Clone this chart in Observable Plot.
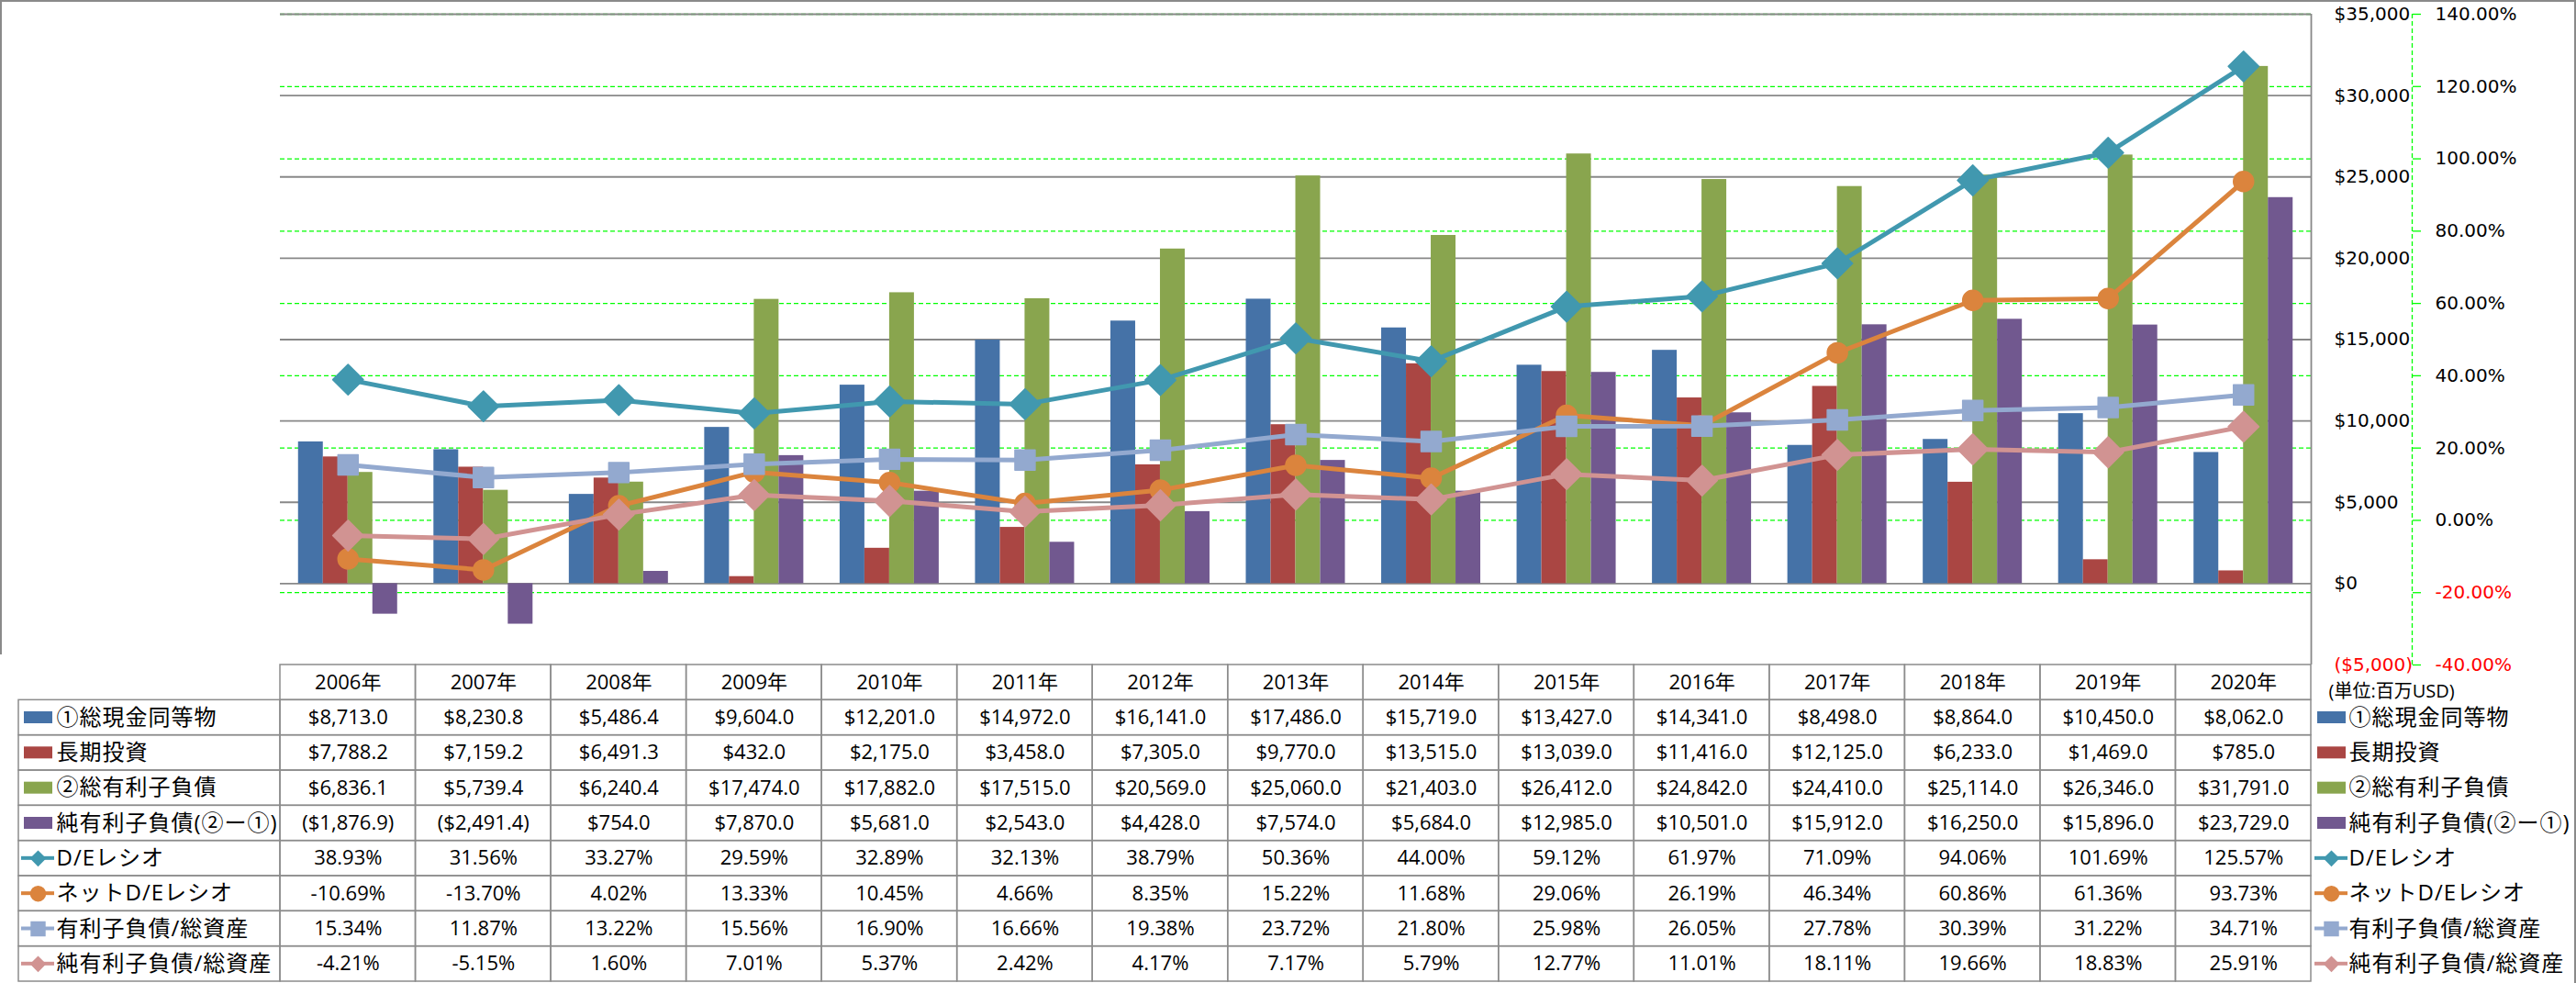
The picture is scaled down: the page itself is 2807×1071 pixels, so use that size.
<!DOCTYPE html>
<html><head><meta charset="utf-8">
<script src="https://cdn.jsdelivr.net/npm/d3@7"></script>
<script src="https://cdn.jsdelivr.net/npm/@observablehq/plot@0.6"></script>
<style>
html,body{margin:0;padding:0;background:#fff;overflow:hidden;}
#wrap{position:relative;width:2807px;height:1071px;}
#wrap svg{position:absolute;left:0;top:0;}
.bd{position:absolute;background:#8a8a8a;}
</style></head><body>
<div id="wrap"></div>
<script>
// ---------- data ----------
const years = ["2006","2007","2008","2009","2010","2011","2012","2013","2014","2015","2016","2017","2018","2019","2020"];
const cash = [8713.0, 8230.8, 5486.4, 9604.0, 12201.0, 14972.0, 16141.0, 17486.0, 15719.0, 13427.0, 14341.0, 8498.0, 8864.0, 10450.0, 8062.0];
const ltInv = [7788.2, 7159.2, 6491.3, 432.0, 2175.0, 3458.0, 7305.0, 9770.0, 13515.0, 13039.0, 11416.0, 12125.0, 6233.0, 1469.0, 785.0];
const debt = [6836.1, 5739.4, 6240.4, 17474.0, 17882.0, 17515.0, 20569.0, 25060.0, 21403.0, 26412.0, 24842.0, 24410.0, 25114.0, 26346.0, 31791.0];
const netDebt = [-1876.9, -2491.4, 754.0, 7870.0, 5681.0, 2543.0, 4428.0, 7574.0, 5684.0, 12985.0, 10501.0, 15912.0, 16250.0, 15896.0, 23729.0];
const deRatio = [38.93, 31.56, 33.27, 29.59, 32.89, 32.13, 38.79, 50.36, 44.00, 59.12, 61.97, 71.09, 94.06, 101.69, 125.57];
const netDeRatio = [-10.69, -13.70, 4.02, 13.33, 10.45, 4.66, 8.35, 15.22, 11.68, 29.06, 26.19, 46.34, 60.86, 61.36, 93.73];
const debtToAssets = [15.34, 11.87, 13.22, 15.56, 16.90, 16.66, 19.38, 23.72, 21.80, 25.98, 26.05, 27.78, 30.39, 31.22, 34.71];
const netDebtToAssets = [-4.21, -5.15, 1.60, 7.01, 5.37, 2.42, 4.17, 7.17, 5.79, 12.77, 11.01, 18.11, 19.66, 18.83, 25.91];
const seriesLabels = ["①総現金同等物","長期投資","②総有利子負債","純有利子負債(②ー①)","D/Eレシオ","ネットD/Eレシオ","有利子負債/総資産","純有利子負債/総資産"];
const dollarTicks = [-5000, 0, 5000, 10000, 15000, 20000, 25000, 30000, 35000];
const pctTicks = [-40, -20, 0, 20, 40, 60, 80, 100, 120, 140];
const yearSuffix = "年";
const unitLabel = "(単位:百万USD)";

// ---------- styles / layout ----------
const colors = ["#4572A7","#AA4643","#89A54E","#71588F","#4198AF","#DB843D","#93A9CF","#D19392"];
const symbols = ["diamond2","circle","square2","diamond2"];
const symR = [15, 11, 14, 15];
const legR = [7, 8, 9.5, 7];
const W = 2807, H = 1071, L = 305, R = 2518, TOP = 15, BOT = 724, TB = 1069;
const AX2 = 2628;
const bw = (R - L) / years.length;
const barW = 27, off = (bw - 4 * barW) / 2;
const GREEN = "#00ff00", GRAY = "#888888";
const TABLE_FONT = "'Open Sans', 'Noto Sans CJK JP', sans-serif";

const seriesValues = [cash, ltInv, debt, netDebt, deRatio, netDeRatio, debtToAssets, netDebtToAssets];
const rows = years.map((year, i) => {
  const r = {year};
  seriesValues.forEach((arr, j) => r["s" + j] = arr[i]);
  return r;
});

const toY = p => -5000 + (p + 40) * 40000 / 180;
const fromY = v => Math.round(((v + 5000) * 180 / 40000 - 40) * 100) / 100;
const fmtAxisDollar = v => v < 0 ? `($${d3.format(",")(-v)})` : `$${d3.format(",")(v)}`;
const fmtPct = p => (p < 0 ? "-" : "") + d3.format(".2f")(Math.abs(p)) + "%";
const fmtCellDollar = v => v < 0 ? `($${d3.format(",.1f")(-v)})` : `$${d3.format(",.1f")(v)}`;

const lastYear = years[years.length - 1];

const chart = Plot.plot({
  width: W, height: H,
  marginTop: TOP, marginBottom: H - BOT, marginLeft: L, marginRight: W - R,
  x: {type: "band", domain: years, padding: 0, round: false, axis: null},
  y: {domain: [-5000, 35000]},
  style: {fontFamily: "'DejaVu Sans', Verdana, sans-serif", fontSize: "20px", background: "white", overflow: "visible"},
  marks: [
    Plot.ruleY(pctTicks.filter(p => p > -40).map(toY), {stroke: GREEN, strokeWidth: 1.3, strokeDasharray: "5,3"}),
    Plot.ruleY(dollarTicks.filter(v => v >= 0), {stroke: GRAY, strokeWidth: 1.8}),
    ...[0,1,2,3].map(i => Plot.barY(rows, {x: "year", y: "s" + i, fill: colors[i],
        insetLeft: off + i * barW, insetRight: bw - off - (i + 1) * barW})),
    ...[0,1,2,3].flatMap(j => [
      Plot.lineY(rows, {x: "year", y: d => toY(d["s" + (4 + j)]), stroke: colors[4 + j], strokeWidth: 5, strokeLinejoin: "round"}),
      Plot.dot(rows, {x: "year", y: d => toY(d["s" + (4 + j)]), symbol: symbols[j], r: symR[j],
        fill: colors[4 + j], stroke: colors[4 + j], strokeWidth: 1.5, strokeLinejoin: "round"})
    ]),
    Plot.ruleX([lastYear], {x: d => d, y1: -5000, y2: 35000, stroke: GRAY, strokeWidth: 1.8, dx: bw / 2}),
    Plot.ruleX([lastYear], {x: d => d, y1: -5000, y2: 35000, stroke: GREEN, strokeWidth: 1.3, strokeDasharray: "5,3", dx: AX2 - (R - bw / 2)}),
    Plot.axisY(dollarTicks.filter(v => v >= 0), {anchor: "right", tickSize: 0, tickPadding: 25, tickFormat: fmtAxisDollar, fill: "black"}),
    Plot.axisY(dollarTicks.filter(v => v < 0), {anchor: "right", tickSize: 0, tickPadding: 25, tickFormat: fmtAxisDollar, fill: "#ff0000"}),
    Plot.axisY(pctTicks.filter(p => p >= 0).map(toY), {anchor: "right", tickSize: 9, tickPadding: 16, stroke: GREEN, strokeWidth: 1.3, dx: AX2 - R, tickFormat: v => fmtPct(fromY(v)), fill: "black"}),
    Plot.axisY(pctTicks.filter(p => p < 0).map(toY), {anchor: "right", tickSize: 9, tickPadding: 16, stroke: GREEN, strokeWidth: 1.3, dx: AX2 - R, tickFormat: v => fmtPct(fromY(v)), fill: "#ff0000"})
  ]
});

// ---------- table ----------
const HEADER = "年度";
const tableRows = [HEADER, ...seriesLabels];
const gridCells = [];
tableRows.forEach(row => years.forEach(year => gridCells.push({row, year})));
const valueCells = [];
seriesLabels.forEach((row, j) => years.forEach((year, i) => {
  const v = seriesValues[j][i];
  valueCells.push({row, year, text: j < 4 ? fmtCellDollar(v) : fmtPct(v)});
}));
const barLabels = seriesLabels.slice(0, 4);
const lineLabels = seriesLabels.slice(4);
const bandH = (TB - BOT) / tableRows.length;
const span = (a, b) => ({insetRight: (R - L) - (b - a), dx: a - L});

function legendMarks(sw0, sw1, ln0, ln1, mx, tx) {
  return [
    Plot.cell(barLabels, {y: d => d, fill: d => d, insetTop: (bandH - 13) / 2, insetBottom: (bandH - 13) / 2, ...span(sw0, sw1)}),
    Plot.cell(lineLabels, {y: d => d, fill: d => d, insetTop: (bandH - 4) / 2, insetBottom: (bandH - 4) / 2, ...span(ln0, ln1)}),
    ...lineLabels.map((lab, j) => Plot.dot([lab], {y: d => d, frameAnchor: "left", dx: mx - L, symbol: symbols[j], r: legR[j], fill: colors[4 + j], stroke: colors[4 + j]})),
    Plot.text(seriesLabels, {y: d => d, frameAnchor: "left", dx: tx - L, textAnchor: "start", fontSize: 24, text: d => d})
  ];
}

const table = Plot.plot({
  width: W, height: H,
  marginTop: BOT, marginBottom: H - TB, marginLeft: L, marginRight: W - R,
  x: {type: "band", domain: years, padding: 0, round: false, axis: null},
  y: {type: "band", domain: tableRows, padding: 0, round: false, axis: null},
  color: {domain: seriesLabels, range: colors},
  style: {fontFamily: TABLE_FONT, fontSize: "22px", background: "transparent", overflow: "visible"},
  marks: [
    Plot.cell(gridCells, {x: "year", y: "row", fill: "none", stroke: "#8c8c8c", strokeWidth: 1.5}),
    Plot.cell(seriesLabels, {y: d => d, fill: "none", stroke: "#8c8c8c", strokeWidth: 1.5, ...span(20, L)}),
    Plot.text(years, {x: d => d, y: () => HEADER, text: d => d + yearSuffix, fontSize: 22}),
    Plot.text(valueCells, {x: "year", y: "row", text: "text", fontSize: 22}),
    ...legendMarks(26, 57, 23, 59, 41, 61),
    ...legendMarks(2525, 2556, 2522, 2558, 2540, 2559),
    Plot.text([unitLabel], {y: () => HEADER, frameAnchor: "left", dx: 2537 - L, dy: 10, textAnchor: "start", fontSize: 20, text: d => d})
  ]
});

// slight letter spacing on the Japanese row labels, as in the original
table.querySelectorAll("text").forEach(t => {
  if (seriesLabels.includes(t.textContent)) t.setAttribute("letter-spacing", "1");
});

const wrap = document.getElementById("wrap");
wrap.appendChild(chart);
wrap.appendChild(table);
[[0,0,W,2],[W-2,0,2,H],[0,0,2,713]].forEach(([x,y,w,h]) => {
  const d = document.createElement("div");
  d.className = "bd";
  Object.assign(d.style, {left: x + "px", top: y + "px", width: w + "px", height: h + "px"});
  wrap.appendChild(d);
});
</script>
</body></html>
